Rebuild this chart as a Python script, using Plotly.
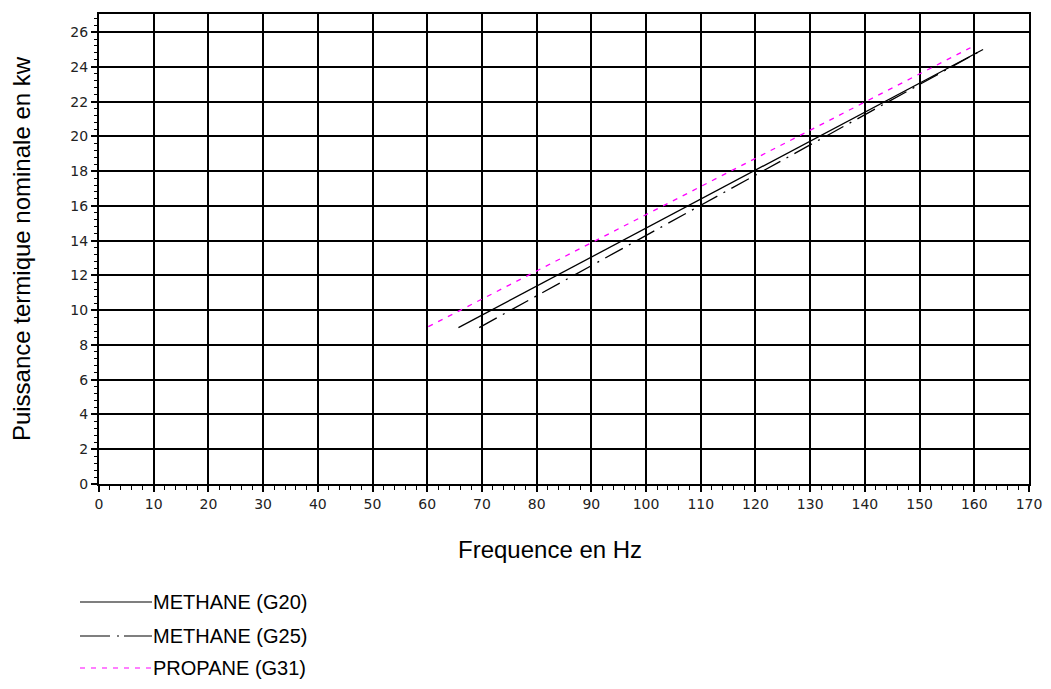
import plotly.graph_objects as go

# ---- data ----
freq_g20 = [65.7, 161.6]
power_g20 = [9.0, 25.0]
freq_g25 = [69.5, 161.6]
power_g25 = [9.0, 25.0]
freq_g31 = [60.2, 159.3]
power_g31 = [9.05, 25.1]

series_names = ["METHANE (G20)", "METHANE (G25)", "PROPANE (G31)"]
x_ticks = list(range(0, 171, 10))
y_ticks = list(range(0, 27, 2))

# page body has an 8px margin: figure origin sits at (8, 8) in the window
OFF = 8
W, H = 1051 - 2 * OFF, 689 - 2 * OFF
ML, MR, MT = 99 - OFF, W - (1029 - OFF), 14 - OFF
MB = H - (484 - OFF)
PW, PH = W - ML - MR, H - MT - MB

def px(x):
    return (x - OFF - ML) / PW

def py(y):
    return (H - MB - (y - OFF)) / PH

fig = go.Figure()
styles = [
    dict(color="black", width=1.3, dash="solid"),
    dict(color="black", width=1.3, dash="20px,7px,2px,7px"),
    dict(color="#ff00ff", width=1.3, dash="5px,6px"),
]
for (xs, ys), name, st in zip(
    [(freq_g20, power_g20), (freq_g25, power_g25), (freq_g31, power_g31)],
    series_names, styles):
    fig.add_trace(go.Scatter(x=xs, y=ys, mode="lines", name=name, line=st,
                             showlegend=False))

# custom legend (long line samples as in the reference)
shapes = []
annotations = []
leg_y = [602, 636, 668]
leg_dash = ["solid", "30px,7px,2px,5px", "5px,6px"]
for name, st, yy, dsh in zip(series_names, styles, leg_y, leg_dash):
    shapes.append(dict(type="line", xref="paper", yref="paper",
                       x0=px(80), x1=px(152), y0=py(yy), y1=py(yy),
                       line=dict(color=st["color"], width=1.2, dash=dsh)))
    annotations.append(dict(xref="paper", yref="paper", x=px(152), y=py(yy),
                            text=name, showarrow=False, xanchor="left",
                            yanchor="middle", borderpad=0,
                            font=dict(family="Liberation Sans, Arial", size=20,
                                      color="black")))

# x axis title (slightly left of the plot centre, as in the reference)
annotations.append(dict(xref="paper", yref="paper", x=px(549.5), y=py(549),
                        text="Frequence en Hz", showarrow=False,
                        xanchor="center", yanchor="middle",
                        font=dict(family="Liberation Sans, Arial", size=24,
                                  color="black")))

tickfont = dict(family="DejaVu Sans", size=14, color="#222")
fig.update_layout(
    width=W, height=H,
    margin=dict(l=ML, r=MR, t=MT, b=MB, autoexpand=False),
    paper_bgcolor="white", plot_bgcolor="white",
    shapes=shapes, annotations=annotations,
    xaxis=dict(range=[0, 170], tickvals=x_ticks, ticks="outside", ticklen=6,
               tickwidth=1.5, tickcolor="black",
               showgrid=True, gridcolor="black", gridwidth=2,
               showline=True, linecolor="black", linewidth=2, mirror=True,
               zeroline=False, tickfont=tickfont,
               minor=dict(dtick=2, ticks="outside", ticklen=4, tickcolor="black",
                          tickwidth=1, showgrid=False)),
    yaxis=dict(range=[0, 27.04], tickvals=y_ticks, ticks="outside", ticklen=6,
               tickwidth=1.5, tickcolor="black",
               showgrid=True, gridcolor="black", gridwidth=2,
               showline=True, linecolor="black", linewidth=2, mirror=True,
               zeroline=False, tickfont=tickfont,
               minor=dict(dtick=0.4, ticks="outside", ticklen=3, tickcolor="black",
                          tickwidth=1, showgrid=False),
               title=dict(text="Puissance termique nominale en kw", standoff=36,
                          font=dict(family="Liberation Sans, Arial", size=24,
                                    color="black"))),
)

fig.write_html("out.html")
